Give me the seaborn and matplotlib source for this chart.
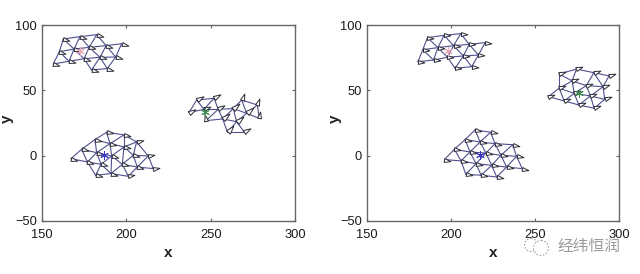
import numpy as np
import pandas as pd
import seaborn as sns
import matplotlib.pyplot as plt
from matplotlib.markers import MarkerStyle
from matplotlib.path import Path
from matplotlib.patches import Circle
from matplotlib.transforms import Affine2D

# agent positions
left_red_x = [162.6, 172.5, 182.4, 160.3, 169.0, 178.0, 188.0, 197.2, 156.7, 166.0, 174.9, 184.4, 193.7, 179.4, 188.7]
left_red_y = [89.3, 91.1, 92.6, 79.6, 81.6, 82.9, 84.2, 85.7, 70.2, 72.2, 74.2, 75.3, 75.5, 65.6, 66.6]
left_red_h = -15

left_green_x = [241.7, 252.0, 268.4, 277.7, 237.1, 246.0, 254.5, 263.4, 271.3, 278.8, 247.2, 257.1, 265.4, 260.0, 270.0]
left_green_y = [42.6, 43.9, 42.6, 38.8, 32.9, 35.5, 35.5, 36.0, 32.4, 28.6, 26.8, 28.1, 26.0, 17.9, 17.9]
left_green_h = [30, 30, 70, 70, 30, 20, 30, 40, 40, 80, 100, 40, 40, 50, 30]

left_blue_x = [188.3, 198.6, 181.4, 190.3, 198.6, 206.1, 173.5, 182.4, 191.3, 204.1, 213.0, 167.2, 176.9, 185.0, 197.6, 206.5, 216.0, 181.8, 190.9, 201.2]
left_blue_y = [17.9, 15.9, 12.3, 9.2, 6.7, 10.5, 4.9, 2.3, -0.2, 0.3, -0.2, -2.3, -4.8, -6.6, -6.6, -8.7, -9.9, -15.0, -13.7, -15.8]
left_blue_h = [-10, -10, -10, -10, -10, 15, -15, -15, -15, -15, 10, -15, -15, -15, -15, -15, 10, -15, -15, 10]

right_red_x = [186.0, 195.9, 205.8, 183.2, 192.2, 201.5, 210.8, 220.3, 180.3, 189.6, 197.9, 207.4, 216.3, 202.4, 212.3]
right_red_y = [90.3, 92.1, 93.4, 81.1, 82.7, 84.2, 85.2, 86.5, 71.9, 73.2, 75.3, 76.3, 77.0, 66.9, 68.1]
right_red_h = -3

right_green_x = [264.4, 274.7, 285.0, 294.1, 272.1, 280.6, 290.5, 264.4, 273.3, 283.0, 291.5, 257.9, 267.4, 276.1, 285.2]
right_green_y = [62.5, 66.3, 63.5, 61.0, 57.2, 53.6, 52.8, 51.6, 47.7, 45.7, 43.1, 45.2, 41.9, 38.8, 36.3]
right_green_h = 20

right_blue_x = [214.3, 223.6, 208.4, 217.3, 226.2, 236.7, 202.0, 211.3, 220.8, 229.7, 239.0, 196.1, 206.0, 214.9, 224.2, 233.1, 242.4, 208.8, 217.9, 227.2]
right_blue_y = [19.7, 17.9, 12.3, 10.5, 9.2, 8.4, 4.9, 2.8, 2.0, 0.3, -0.5, -3.0, -4.0, -6.1, -7.4, -8.7, -9.9, -14.3, -15.0, -16.3]
right_blue_h = -10

# flock centres
left_star_x = [172.5, 246.5, 187.0]
left_star_y = [80.0, 33.5, 0.3]
right_star_x = [198.0, 276.3, 217.0]
right_star_y = [80.0, 48.2, 0.3]
star_colors = ["#e9a9bb", "#3f8f4f", "#3535c8"]

x_ticks = [150, 200, 250, 300]
y_ticks = [-50, 0, 50, 100]

edge_col = "#4f4f8f"
agent_col = "#2b2b36"
spine_col = "#666666"
# link range measured on screen, the axes are not equal
link_range = 18.5
x_scale = 253 / 150
y_scale = 196 / 150

sns.set_theme(style="ticks")
plt.rcParams['font.family'] = ['Liberation Sans', 'Noto Sans CJK SC', 'DejaVu Sans']


def agent_marker(heading):
    tri = Path([(0, -0.3), (1, 0), (0, 0.3), (0, -0.3)], closed=True)
    return MarkerStyle(tri.transformed(Affine2D().rotate_deg(heading)))


def draw_flock(ax, xs, ys, headings):
    xs = np.array(xs)
    ys = np.array(ys)
    headings = np.broadcast_to(headings, xs.shape)

    # neighbours within range share a link
    rows = []
    for i in range(len(xs)):
        for j in range(i + 1, len(xs)):
            if np.hypot((xs[i] - xs[j]) * x_scale, (ys[i] - ys[j]) * y_scale) < link_range:
                rows.append({"edge": f"{i}-{j}", "x": xs[i], "y": ys[i]})
                rows.append({"edge": f"{i}-{j}", "x": xs[j], "y": ys[j]})
    links = pd.DataFrame(rows)
    sns.lineplot(links, x="x", y="y", units="edge", estimator=None, sort=False,
                 color=edge_col, linewidth=0.8, ax=ax, legend=False)

    for h in np.unique(headings):
        keep = headings == h
        sns.scatterplot(x=xs[keep], y=ys[keep], marker=agent_marker(h), s=85, color="white",
                        edgecolor=agent_col, linewidth=0.7, ax=ax, legend=False, zorder=3)


fig = plt.figure(figsize=(6.4, 2.74), dpi=100)
ax_l = fig.add_axes([42 / 640, 1 - 221 / 274, 253 / 640, 196 / 274])
ax_r = fig.add_axes([367 / 640, 1 - 221 / 274, 252 / 640, 196 / 274])

draw_flock(ax_l, left_red_x, left_red_y, left_red_h)
draw_flock(ax_l, left_green_x, left_green_y, left_green_h)
draw_flock(ax_l, left_blue_x, left_blue_y, left_blue_h)
draw_flock(ax_r, right_red_x, right_red_y, right_red_h)
draw_flock(ax_r, right_green_x, right_green_y, right_green_h)
draw_flock(ax_r, right_blue_x, right_blue_y, right_blue_h)

for ax, sx, sy in [(ax_l, left_star_x, left_star_y), (ax_r, right_star_x, right_star_y)]:
    for x, y, c in zip(sx, sy, star_colors):
        sns.scatterplot(x=[x], y=[y], marker=(6, 2, 0), s=32, color=c, linewidth=0.7,
                        ax=ax, legend=False, zorder=4)
    ax.set(xlim=(150, 300), ylim=(-50, 100))
    ax.set_xticks(x_ticks)
    ax.set_yticks(y_ticks)
    ax.tick_params(direction="in", length=2.5, width=0.8, color=spine_col, top=True, right=True,
                   labelsize=9.3, labelcolor="#1a1a1a")
    ax.tick_params(axis="x", pad=5.5)
    ax.tick_params(axis="y", pad=3.5)
    for s in ax.spines.values():
        s.set_color(spine_col)
        s.set_linewidth(1.0)
    ax.set_xlabel("x", fontsize=11, fontweight="bold", color="#222222", va="center")
    ax.set_ylabel("y", fontsize=11, fontweight="bold", color="#222222", va="center")
    ax.xaxis.set_label_coords(0.5, -0.163)

ax_l.yaxis.set_label_coords(-35 / 253, 0.52)
ax_r.yaxis.set_label_coords(-32 / 252, 0.52)

# watermark in the lower right corner
over = fig.add_axes([0, 0, 1, 1], facecolor="none")
over.set(xlim=(0, 640), ylim=(274, 0))
over.axis("off")
over.add_patch(Circle((531, 245), 6.5, fill=False, ec="#a5a5a5", lw=0.8, ls=(0, (1.5, 1.5))))
over.add_patch(Circle((541, 248), 7.5, facecolor="white", ec="#a5a5a5", lw=0.8, ls=(0, (1.5, 1.5))))
over.text(589, 246, "经纬恒润", fontsize=11.3, color="#9a9a9a", ha="center", va="center")

fig.savefig("out.png", dpi=100)
